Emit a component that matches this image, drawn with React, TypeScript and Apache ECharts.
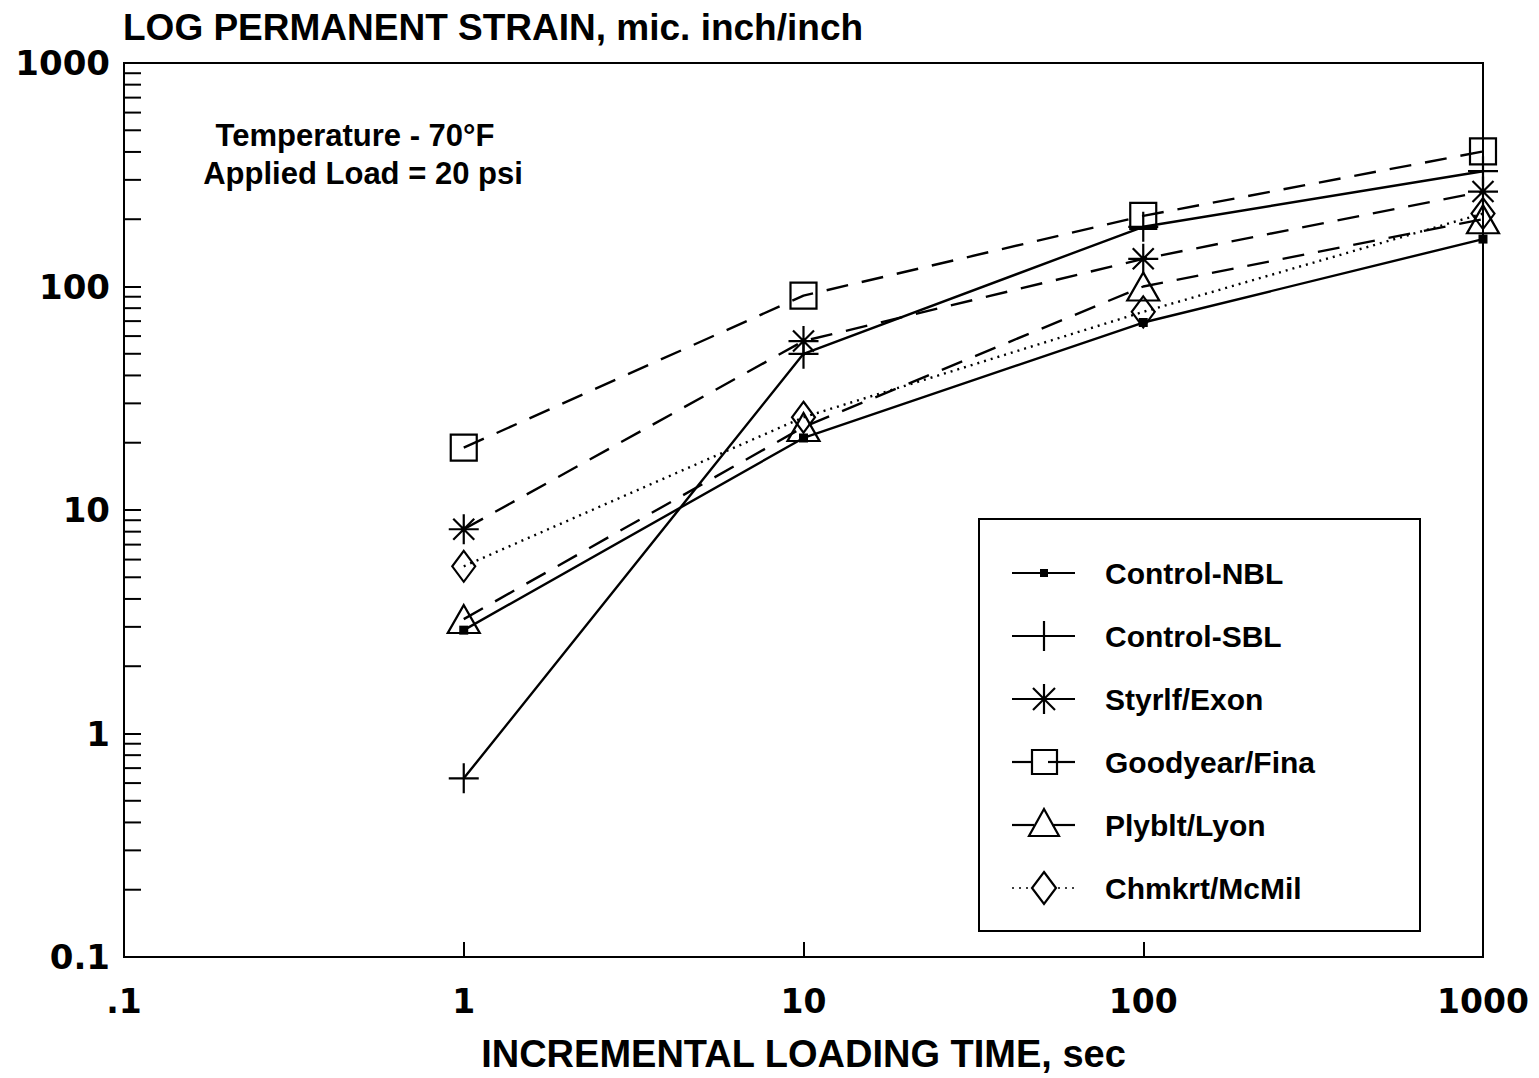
import React, { useEffect, useRef } from "react";
import * as echarts from "echarts";

// ---- data ----
const loadingTimes = [1, 10, 100, 1000];
const controlNBL = [2.9, 21, 69, 163];
const controlSBL = [0.63, 50, 185, 328];
const styrlfExon = [8.2, 57, 133, 266];
const goodyearFina = [19, 91, 207, 402];
const plybltLyon = [3.25, 23.5, 100, 200];
const chmkrtMcMil = [5.6, 26, 77, 212];

const seriesNames = [
  "Control-NBL",
  "Control-SBL",
  "Styrlf/Exon",
  "Goodyear/Fina",
  "Plyblt/Lyon",
  "Chmkrt/McMil",
];

const xTickValues = [0.1, 1, 10, 100, 1000];
const xTickLabels = [".1", "1", "10", "100", "1000"];
const yTickValues = [0.1, 1, 10, 100, 1000];
const yTickLabels = ["0.1", "1", "10", "100", "1000"];
const minorTickDecades = [0.1, 1, 10, 100];
const minorTickMultipliers = [2, 3, 4, 5, 6, 7, 8, 9];

const chartTitle = "LOG PERMANENT STRAIN, mic. inch/inch";
const xAxisTitle = "INCREMENTAL LOADING TIME, sec";
const noteLines = ["Temperature - 70°F", "Applied Load = 20 psi"];

const SANS = "'Liberation Sans', Arial, Helvetica, sans-serif";
const DIGITS = "'DejaVu Sans', 'Liberation Sans', sans-serif";

const PLUS = "path://M10,0 L10,20 M0,10 L20,10";
const STAR = "path://M10,0 L10,20 M0,10 L20,10 M3,3 L17,17 M17,3 L3,17";

function labelFor(values: number[], labels: string[], v: number) {
  for (let i = 0; i < values.length; i++) {
    if (Math.abs(Math.log10(v) - Math.log10(values[i])) < 1e-6) return labels[i];
  }
  return "";
}

function pairs(ys: number[]) {
  return loadingTimes.map((x, i) => [x, ys[i]]);
}

export default function App() {
  const ref = useRef<HTMLDivElement>(null);

  useEffect(() => {
    if (!ref.current) return;
    const chart = echarts.init(ref.current, undefined, { renderer: "svg" });

    const clear = "rgba(0,0,0,0)";
    const dash = [22, 14];
    const dot = [2, 5];
    const markerStyle = { color: clear, borderColor: "#000", borderWidth: 2.2 };

    const lineSeries = (
      name: string,
      ys: number[],
      type: any,
      symbol: string,
      symbolSize: any,
      itemStyle: any
    ) => ({
      name,
      type: "line",
      data: pairs(ys),
      symbol,
      symbolSize,
      showAllSymbol: true,
      itemStyle,
      lineStyle: { color: "#000", width: 2.4, type },
      emphasis: { disabled: true },
      z: 3,
    });

    const minorTicks: number[][] = [];
    minorTickDecades.forEach((d) =>
      minorTickMultipliers.forEach((m) => minorTicks.push([0.1, +(d * m).toPrecision(3)]))
    );

    // legend swatches (decoration only)
    const lx1 = 1012;
    const lx2 = 1075;
    const lcx = 1044;
    const rowY = (k: number) => 573 + 63 * k;
    const stroke = { stroke: "#000", lineWidth: 2.2, fill: null as any };
    const swatches: any[] = [];
    // NBL
    swatches.push({ type: "line", shape: { x1: lx1, y1: rowY(0), x2: lx2, y2: rowY(0) }, style: stroke });
    swatches.push({ type: "rect", shape: { x: lcx - 4, y: rowY(0) - 4, width: 8, height: 8 }, style: { fill: "#000" } });
    // SBL
    swatches.push({ type: "line", shape: { x1: lx1, y1: rowY(1), x2: lx2, y2: rowY(1) }, style: stroke });
    swatches.push({ type: "line", shape: { x1: lcx, y1: rowY(1) - 15, x2: lcx, y2: rowY(1) + 15 }, style: stroke });
    // Styrlf
    {
      const y = rowY(2);
      swatches.push({ type: "line", shape: { x1: lx1, y1: y, x2: lx2, y2: y }, style: stroke });
      swatches.push({ type: "line", shape: { x1: lcx, y1: y - 15, x2: lcx, y2: y + 15 }, style: stroke });
      swatches.push({ type: "line", shape: { x1: lcx - 11, y1: y - 11, x2: lcx + 11, y2: y + 11 }, style: stroke });
      swatches.push({ type: "line", shape: { x1: lcx + 11, y1: y - 11, x2: lcx - 11, y2: y + 11 }, style: stroke });
    }
    // Goodyear
    {
      const y = rowY(3);
      swatches.push({ type: "line", shape: { x1: lx1, y1: y, x2: lcx - 12, y2: y }, style: stroke });
      swatches.push({ type: "line", shape: { x1: lcx + 4, y1: y, x2: lx2, y2: y }, style: stroke });
      swatches.push({ type: "rect", shape: { x: lcx - 12, y: y - 12, width: 25, height: 24 }, style: stroke });
    }
    // Plyblt
    {
      const y = rowY(4);
      swatches.push({ type: "line", shape: { x1: lx1, y1: y, x2: lcx - 10, y2: y }, style: stroke });
      swatches.push({ type: "line", shape: { x1: lcx + 8, y1: y, x2: lx2, y2: y }, style: stroke });
      swatches.push({
        type: "polygon",
        shape: { points: [[lcx, y - 16], [lcx + 15, y + 11], [lcx - 15, y + 11]] },
        style: stroke,
      });
    }
    // Chmkrt
    {
      const y = rowY(5);
      swatches.push({ type: "line", shape: { x1: lx1, y1: y, x2: lcx - 13, y2: y }, style: { ...stroke, lineWidth: 1.5, lineDash: dot } });
      swatches.push({ type: "line", shape: { x1: lcx + 14, y1: y, x2: lx2, y2: y }, style: { ...stroke, lineWidth: 1.5, lineDash: dot } });
      swatches.push({
        type: "polygon",
        shape: { points: [[lcx, y - 16], [lcx + 12, y], [lcx, y + 16], [lcx - 12, y]] },
        style: stroke,
      });
    }

    const option: any = {
      animation: false,
      backgroundColor: "#fff",
      title: {
        text: chartTitle,
        left: 118,
        top: 4,
        textStyle: { fontFamily: SANS, fontWeight: "bold", fontSize: 37, color: "#000" },
      },
      grid: {
        left: 124,
        right: 56,
        top: 63,
        bottom: 115,
        show: true,
        borderColor: "#000",
        borderWidth: 2,
        backgroundColor: "transparent",
        containLabel: false,
      },
      legend: {
        data: seriesNames,
        orient: "vertical",
        left: lx1,
        top: 553,
        itemWidth: 83,
        itemHeight: 30,
        itemGap: 33,
        icon: "rect",
        itemStyle: { color: clear, borderWidth: 0 },
        selectedMode: false,
        textStyle: { fontFamily: SANS, fontWeight: "bold", fontSize: 30, color: "#000", lineHeight: 30 },
      },
      xAxis: {
        type: "log",
        logBase: 10,
        min: 0.1,
        max: 1000,
        name: xAxisTitle,
        nameLocation: "middle",
        nameGap: 78,
        nameTextStyle: { fontFamily: SANS, fontWeight: "bold", fontSize: 38, color: "#000" },
        axisLine: { show: true, lineStyle: { color: "#000", width: 2 } },
        axisTick: { show: true, inside: true, length: 15, lineStyle: { color: "#000", width: 2 } },
        minorTick: { show: false },
        splitLine: { show: false },
        axisLabel: {
          margin: 28,
          fontFamily: DIGITS,
          fontWeight: "bold",
          fontSize: 33,
          color: "#000",
          formatter: (v: number) => labelFor(xTickValues, xTickLabels, v),
        },
      },
      yAxis: {
        type: "log",
        logBase: 10,
        min: 0.1,
        max: 1000,
        axisLine: { show: true, lineStyle: { color: "#000", width: 2 } },
        axisTick: { show: true, inside: true, length: 17, lineStyle: { color: "#000", width: 2 } },
        minorTick: { show: false },
        splitLine: { show: false },
        axisLabel: {
          margin: 14,
          fontFamily: DIGITS,
          fontWeight: "bold",
          fontSize: 34,
          color: "#000",
          formatter: (v: number) => labelFor(yTickValues, yTickLabels, v),
        },
      },
      graphic: [
        {
          type: "text",
          x: 355,
          y: 135,
          style: {
            text: noteLines[0],
            font: `bold 31px ${SANS}`,
            fill: "#000",
            align: "center",
            verticalAlign: "middle",
            textAlign: "center",
            textVerticalAlign: "middle",
          },
        },
        {
          type: "text",
          x: 363,
          y: 173,
          style: {
            text: noteLines[1],
            font: `bold 31px ${SANS}`,
            fill: "#000",
            align: "center",
            verticalAlign: "middle",
            textAlign: "center",
            textVerticalAlign: "middle",
          },
        },
        {
          type: "rect",
          shape: { x: 979, y: 519, width: 441, height: 412 },
          style: { stroke: "#000", lineWidth: 2, fill: null },
          z: 10,
        },
        ...swatches.map((s) => ({ ...s, z: 10 })),
      ],
      series: [
        lineSeries(seriesNames[0], controlNBL, "solid", "rect", 9, { color: "#000", borderWidth: 0 }),
        lineSeries(seriesNames[1], controlSBL, "solid", PLUS, 30, markerStyle),
        lineSeries(seriesNames[2], styrlfExon, dash, STAR, 30, markerStyle),
        lineSeries(seriesNames[3], goodyearFina, dash, "rect", 26, markerStyle),
        lineSeries(seriesNames[4], plybltLyon, dash, "triangle", [32, 28], markerStyle),
        lineSeries(seriesNames[5], chmkrtMcMil, dot, "diamond", [23, 31], markerStyle),
        {
          name: "minorTicks",
          type: "custom",
          data: minorTicks,
          encode: { x: 0, y: 1 },
          silent: true,
          clip: false,
          z: 4,
          renderItem: (_params: any, api: any) => {
            const p = api.coord([api.value(0), api.value(1)]);
            return {
              type: "line",
              shape: { x1: p[0], y1: p[1], x2: p[0] + 17, y2: p[1] },
              style: { stroke: "#000", lineWidth: 2 },
            };
          },
        },
      ],
    };

    chart.setOption(option);
    return () => chart.dispose();
  }, []);

  return (
    <div
      ref={ref}
      style={{ position: "absolute", left: 0, top: 0, width: 1539, height: 1078, background: "#fff" }}
    />
  );
}
